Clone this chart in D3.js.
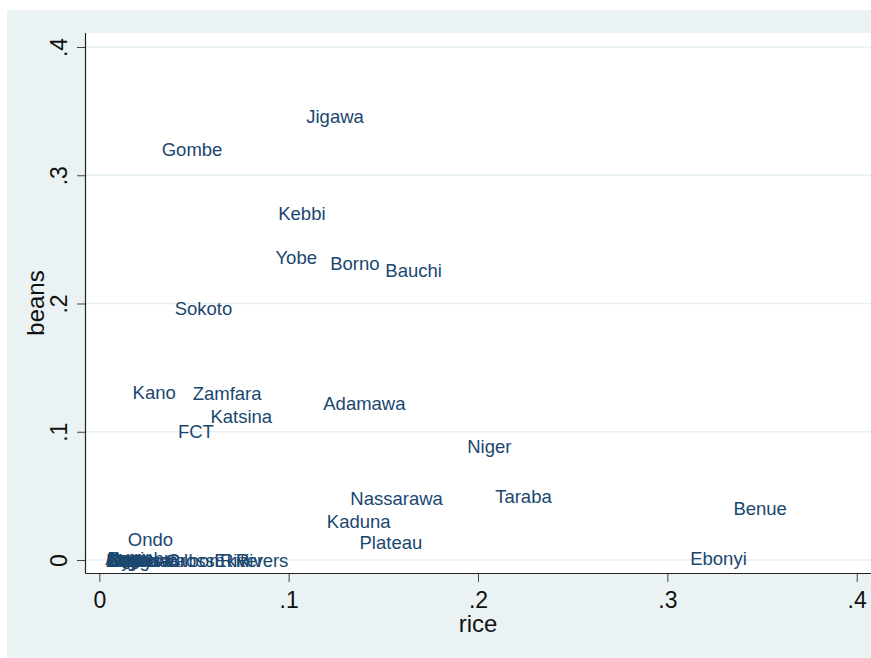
<!DOCTYPE html>
<html>
<head>
<meta charset="utf-8">
<script src="https://cdn.jsdelivr.net/npm/d3@7"></script>
<style>
  body { margin: 0; background: #fff; }
  text { font-family: "Liberation Sans", Arial, Helvetica, sans-serif; }
</style>
</head>
<body>
<div id="plot"></div>
<script>
// state labels, rice share and beans share
const states = ["Jigawa", "Gombe", "Kebbi", "Yobe", "Borno", "Bauchi", "Sokoto", "Kano", "Zamfara",
    "Katsina", "FCT", "Adamawa", "Niger", "Taraba", "Nassarawa", "Kaduna", "Plateau", "Benue",
    "Ebonyi", "Ondo",
    "Abia", "Imo", "Edo", "Oyo", "Kogi", "Delta", "Osun", "Ogun", "Lagos", "Enugu", "Bayelsa",
    "Anambra", "Kwara", "Akwa Ibom", "Cross River", "Ekiti", "Rivers"];
const rice = [0.1245, 0.049, 0.107, 0.104, 0.135, 0.166, 0.055, 0.029, 0.0675,
    0.075, 0.051, 0.140, 0.206, 0.224, 0.157, 0.137, 0.154, 0.349,
    0.327, 0.027,
    0.0135, 0.0135, 0.013, 0.013, 0.014, 0.0155, 0.0155, 0.016, 0.017, 0.018, 0.021,
    0.023, 0.032, 0.042, 0.061, 0.070, 0.086];
const beans = [0.346, 0.320, 0.270, 0.236, 0.231, 0.226, 0.196, 0.131, 0.130,
    0.112, 0.100, 0.122, 0.089, 0.050, 0.048, 0.030, 0.014, 0.040,
    0.001, 0.016,
    0.000, 0.001, 0.000, 0.000, 0.001, 0.000, 0.000, 0.001, 0.000, 0.000, 0.000,
    0.001, 0.000, 0.000, 0.000, 0.000, 0.000];
const xTicks = [0, 0.1, 0.2, 0.3, 0.4];
const yTicks = [0, 0.1, 0.2, 0.3, 0.4];

const W = 871, H = 658;
const plot = {left: 86, right: 871, top: 33, bottom: 573};

const svg = d3.select("#plot")
    .append("svg")
    .attr("width", W)
    .attr("height", H);

// graph region + plot region
svg.append("rect")
    .attr("x", 7).attr("y", 10)
    .attr("width", W - 7).attr("height", H - 10)
    .attr("fill", "#eaf2f3");
svg.append("rect")
    .attr("x", plot.left).attr("y", plot.top)
    .attr("width", plot.right - plot.left).attr("height", plot.bottom - plot.top)
    .attr("fill", "#ffffff");

const x = d3.scaleLinear().domain([0, 0.4]).range([99.3, 856.7]);
const y = d3.scaleLinear().domain([0, 0.4]).range([560, 47]);

const fmt = d => d === 0 ? "0" : d3.format(".1f")(d).replace(/^0/, "");

// horizontal grid lines
svg.append("g")
    .selectAll("line")
    .data(yTicks)
    .enter()
    .append("line")
    .attr("x1", plot.left).attr("x2", plot.right)
    .attr("y1", d => y(d)).attr("y2", d => y(d))
    .attr("stroke", "#e6eff1")
    .attr("stroke-width", 1.5);

// x axis
const gx = svg.append("g")
    .attr("transform", "translate(0," + plot.bottom + ")")
    .call(d3.axisBottom(x).tickValues(xTicks).tickFormat(fmt).tickSize(9).tickPadding(10));
gx.select(".domain").remove();
gx.selectAll(".tick line").attr("stroke", "#444");
gx.selectAll(".tick text")
    .attr("font-size", 23)
    .attr("fill", "#111")
    .attr("font-family", "Liberation Sans, Arial, sans-serif");

// y axis, labels turned
const gy = svg.append("g")
    .attr("transform", "translate(" + plot.left + ",0)")
    .call(d3.axisLeft(y).tickValues(yTicks).tickFormat(fmt).tickSize(9).tickPadding(6));
gy.select(".domain").remove();
gy.selectAll(".tick line").attr("stroke", "#444");
gy.selectAll(".tick text")
    .attr("font-size", 23)
    .attr("fill", "#111")
    .attr("font-family", "Liberation Sans, Arial, sans-serif")
    .attr("text-anchor", "middle")
    .attr("x", null).attr("dy", null)
    .attr("transform", "translate(-27,0) rotate(-90)")
    .attr("dominant-baseline", "central");

// axis lines
svg.append("line")
    .attr("x1", plot.left - 0.5).attr("x2", plot.left - 0.5)
    .attr("y1", plot.top).attr("y2", plot.bottom + 0.5)
    .attr("stroke", "#222").attr("stroke-width", 1.2);
svg.append("line")
    .attr("x1", plot.left - 0.5).attr("x2", plot.right)
    .attr("y1", plot.bottom + 0.5).attr("y2", plot.bottom + 0.5)
    .attr("stroke", "#222").attr("stroke-width", 1.2);

// axis titles
svg.append("text")
    .attr("x", (x(0) + x(0.4)) / 2).attr("y", 632)
    .attr("text-anchor", "middle")
    .attr("font-size", 24)
    .attr("fill", "#111")
    .text("rice");
svg.append("text")
    .attr("transform", "translate(35," + ((plot.top + plot.bottom) / 2) + ") rotate(-90)")
    .attr("text-anchor", "middle")
    .attr("dominant-baseline", "central")
    .attr("font-size", 24)
    .attr("fill", "#111")
    .text("beans");

// marker labels centred on the points
svg.append("g")
    .selectAll("text")
    .data(states)
    .enter()
    .append("text")
    .attr("x", (d, i) => x(rice[i]))
    .attr("y", (d, i) => y(beans[i]))
    .attr("dy", "0.36em")
    .attr("text-anchor", "middle")
    .attr("font-size", 18.5)
    .attr("fill", "#1a476f")
    .text(d => d);
</script>
</body>
</html>
